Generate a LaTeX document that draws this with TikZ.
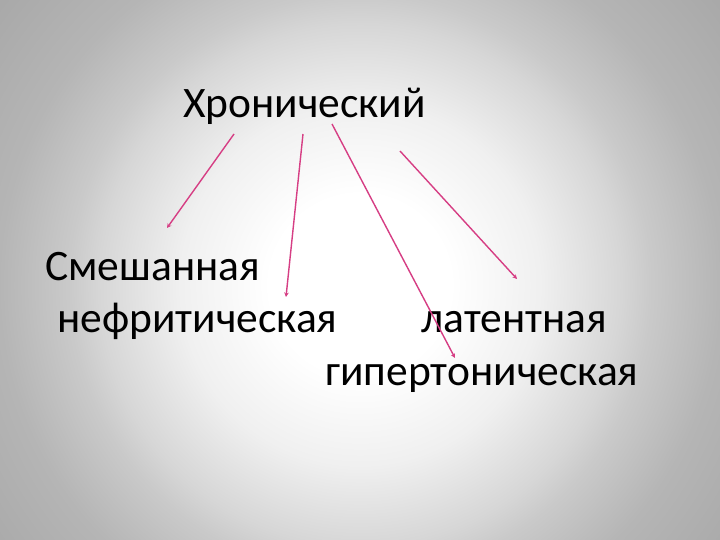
\documentclass[tikz,border=0pt]{standalone}
\usepackage{fontspec}
\setmainfont{Carlito}
\usetikzlibrary{arrows.meta}
\pgfdeclareradialshading{bgshade}{\pgfpoint{0bp}{0bp}}{color(0bp)=(white); color(90bp)=(white); color(180bp)=(black!6); color(260bp)=(black!16); color(290bp)=(black!21); color(360bp)=(black!29); color(480bp)=(black!35)}
\begin{document}
\begin{tikzpicture}[x=1pt,y=-1pt,
  lbl/.style={anchor=base west, inner sep=0pt, font=\fontsize{43.5}{48}\selectfont, text=black},
  arr/.style={draw={rgb,255:red,214;green,62;blue,132}, line width=1.4pt, -{Stealth[length=4.5pt,width=4.5pt]}}]
\begin{scope}
\clip (0,0) rectangle (720,540);
\begin{scope}[shift={(360,285)}]
\pgftext{\pgfuseshading{bgshade}}
\end{scope}
\end{scope}
\useasboundingbox (0,0) rectangle (720,540);
\node[lbl] (top) at (183,118) {Хронический};
\node[lbl] (mix) at (45,280) {Смешанная};
\node[lbl] (nef) at (57,332) {нефритическая};
\node[lbl] (lat) at (421,332) {латентная};
\node[lbl] (hyp) at (325,385) {гипертоническая};
\coordinate (s1) at (234,134); \coordinate (e1) at (167,228);
\coordinate (s2) at (303,134); \coordinate (e2) at (286,297);
\coordinate (s3) at (332,124); \coordinate (e3) at (455,358);
\coordinate (s4) at (400,151); \coordinate (e4) at (517,279);
\draw[arr] (s1) -- (e1);
\draw[arr] (s2) -- (e2);
\draw[arr] (s3) -- (e3);
\draw[arr] (s4) -- (e4);
\end{tikzpicture}
\end{document}
